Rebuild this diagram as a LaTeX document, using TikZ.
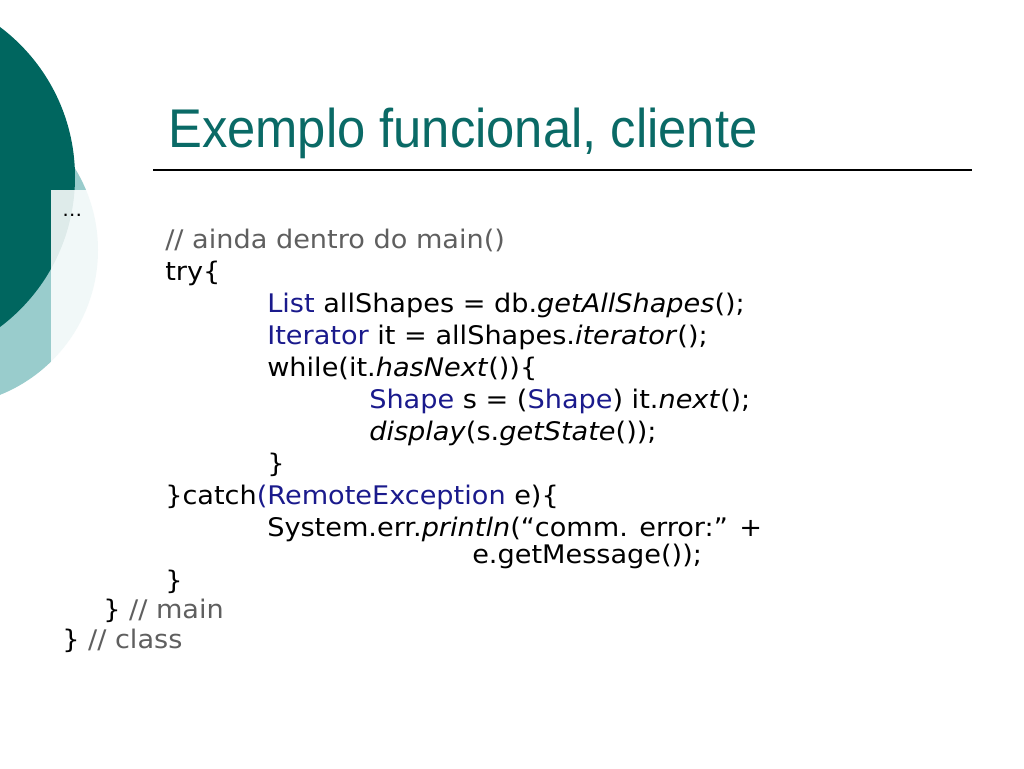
\documentclass[tikz,border=0pt]{standalone}
\usepackage{fontspec}
\setmainfont[FakeStretch=1.06]{DejaVu Sans}
\newfontfamily\titlefont[FakeStretch=0.93]{Liberation Sans}
\definecolor{darkteal}{HTML}{00665F}
\definecolor{lightteal}{HTML}{99CCCC}
\definecolor{titleteal}{HTML}{0A6A66}
\definecolor{kwblue}{HTML}{1A1A8C}
\definecolor{cmtgray}{HTML}{5F5F5F}
\tikzset{
  code/.style={anchor=base west, inner sep=0pt, font=\fontsize{19.2}{23}\selectfont, text=black},
  dots/.style={anchor=base west, inner sep=0pt, font=\fontsize{14}{17}\selectfont, text=black},
  titletext/.style={anchor=base west, inner sep=0pt, font=\titlefont\fontsize{40.9}{48}\selectfont, text=titleteal}
}
\newcommand{\kw}[1]{\textcolor{kwblue}{#1}}
\newcommand{\cm}[1]{\textcolor{cmtgray}{#1}}
\begin{document}
\begin{tikzpicture}[x=0.75pt,y=-0.75pt]
\useasboundingbox (0,0) rectangle (1024,768);
\clip (0,0) rectangle (1024,768);
\fill[white] (0,0) rectangle (1024,768);
% decoration
\fill[lightteal] (-58,250) circle[radius=156];
\fill[darkteal] (-112.5,177) circle[radius=187.5];
\fill[white, opacity=0.87] (51,190) rectangle (300,768);
% title
\node[titletext] (title) at (168,147) {Exemplo funcional, cliente};
\draw[line width=1.1pt] (153,170) -- (972,170);
% code
\node[dots] (l0) at (62,216) {…};
\node[code] (l1) at (165,248) {\cm{// ainda dentro do main()}};
\node[code] (l2) at (165,280) {try\{};
\node[code] (l3) at (267,312) {\kw{List} allShapes = db.\textit{getAllShapes}();};
\node[code] (l4) at (267,344) {\kw{Iterator} it = allShapes.\textit{iterator}();};
\node[code] (l5) at (267,376) {while(it.\textit{hasNext}())\{};
\node[code] (l6) at (369,408) {\kw{Shape} s = (\kw{Shape}) it.\textit{next}();};
\node[code] (l7) at (369,440) {\textit{display}(s.\textit{getState}());};
\node[code] (l8) at (267,472) {\}};
\node[code] (l9) at (165,504) {\}catch\kw{(RemoteException} e)\{};
\node[code] (l10) at (267,536) {System.err.\textit{println}(“comm. error:” +};
\node[code] (l11) at (472,563) {e.getMessage());};
\node[code] (l12) at (165,589) {\}};
\node[code] (l13) at (103,618) {\} \cm{// main}};
\node[code] (l14) at (62,648) {\} \cm{// class}};
\end{tikzpicture}
\end{document}
